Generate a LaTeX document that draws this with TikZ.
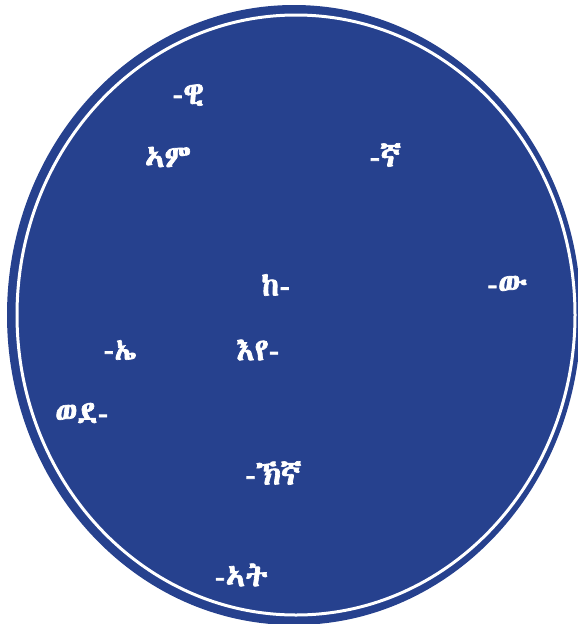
\documentclass[tikz,border=0pt]{standalone}
\usepackage{fontspec}
\IfFontExistsTF{Abyssinica SIL}
  {\newfontfamily\ethfont{Abyssinica SIL}[AutoFakeBold=2.2]}
  {\IfFontExistsTF{FreeSans}
    {\newfontfamily\ethfont{FreeSans}[AutoFakeBold=2.2]}
    {\IfFontExistsTF{FreeSerif}
      {\newfontfamily\ethfont{FreeSerif}[AutoFakeBold=2.2]}
      {\newfontfamily\ethfont{DejaVu Sans}[AutoFakeBold=2.2]}}}
\definecolor{discblue}{RGB}{38,65,142}
\tikzset{
  lbl/.style={text=white, font=\ethfont\bfseries\fontsize{31}{33}\selectfont, inner sep=0pt, anchor=center},
}
\begin{document}
\begin{tikzpicture}[x=1pt,y=-1pt]
\useasboundingbox (0,0) rectangle (578,624);
\fill[discblue] (294,315) ellipse [x radius=287, y radius=310];
\draw[white, line width=3pt] (296,315) ellipse [x radius=279, y radius=300];
\node[lbl] (wi) at (188,95) {-ዊ};
\node[lbl] (am) at (168,157) {ኣም};
\node[lbl] (nya) at (385,155) {-ኛ};
\node[lbl] (ke) at (276,285) {ከ-};
\node[lbl] (wu) at (507,285) {-ው};
\node[lbl] (ee) at (120,350) {-ኤ};
\node[lbl] (iye) at (258,350) {እየ-};
\node[lbl] (wede) at (82,413) {ወደ-};
\node[lbl] (hnya) at (273,473) {-ኽኛ};
\node[lbl] (at) at (241,575) {-ኣት};
\end{tikzpicture}
\end{document}
